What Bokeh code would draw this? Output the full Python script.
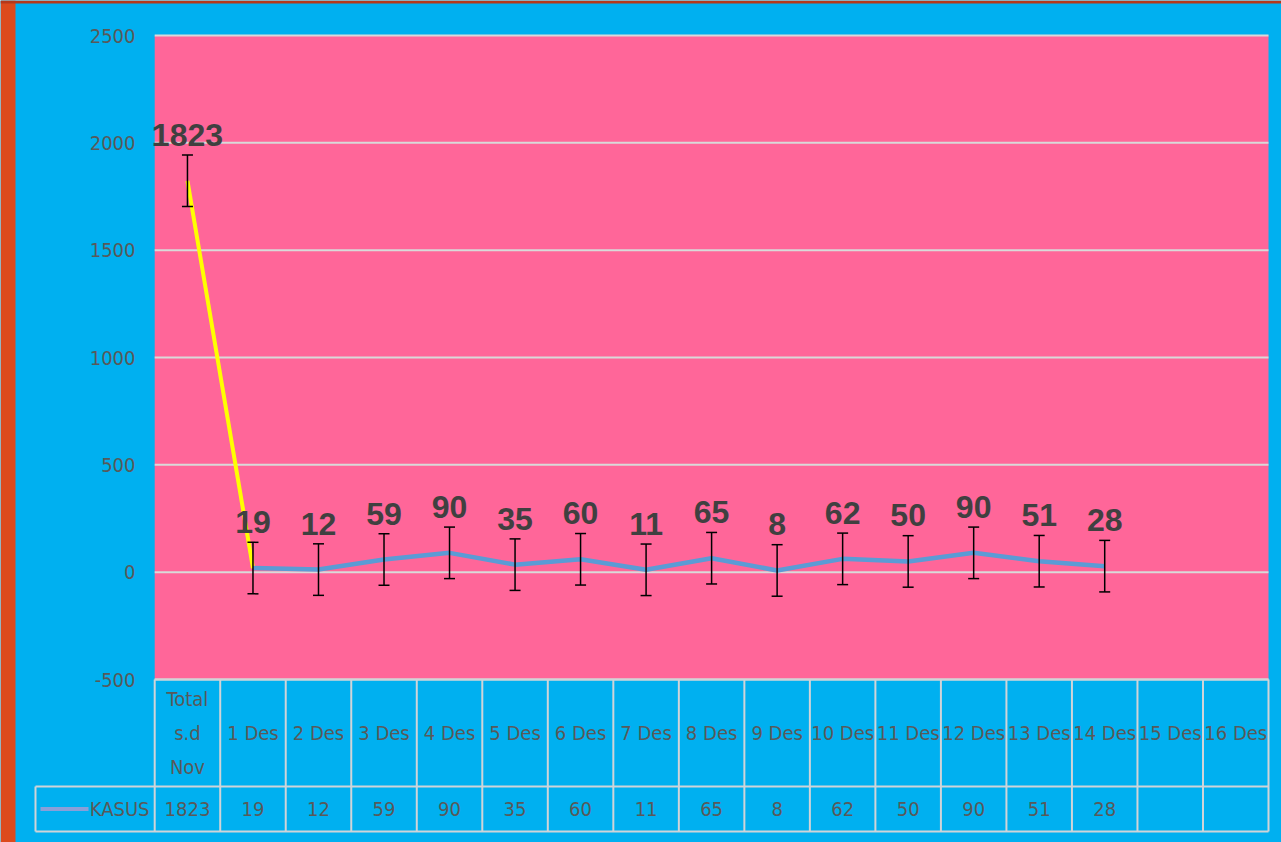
from bokeh.plotting import figure
from bokeh.models import (Range1d, FixedTicker, Whisker, ColumnDataSource, TeeHead,
                          PrintfTickFormatter)
from bokeh.embed import file_html
from bokeh.resources import INLINE
from bokeh.core.properties import value

# ---------------- data ----------------
categories = ["Total\ns.d\nNov", "1 Des", "2 Des", "3 Des", "4 Des", "5 Des", "6 Des",
              "7 Des", "8 Des", "9 Des", "10 Des", "11 Des", "12 Des", "13 Des",
              "14 Des", "15 Des", "16 Des"]
kasus = [1823, 19, 12, 59, 90, 35, 60, 11, 65, 8, 62, 50, 90, 51, 28]
series_name = "KASUS"
error_amount = 120  # error bar half-length
y_ticks = [-500, 0, 500, 1000, 1500, 2000, 2500]

# ---------------- styles / geometry ----------------
BLUE_BG = "#00B0F0"
PINK = "#FF6699"
ORANGE = "#DC4A1C"
DARK = "#B5381A"
GRID = "#D9D9D9"
BORDER = "#D0D4D8"
TXT = "#595959"
LBL = "#404040"
LINE_BLUE = "#5B9BD5"
NARROW = "DejaVu Sans Condensed"
FS = "20px"

W, H = 1281, 842
PL, PR, PT, PB = 154.2, 1268.0, 35.0, 679.0   # pink plot area (canvas px)
ncat = len(categories)
ppx = (PR - PL) / ncat                       # px per category
ppy = (PB - PT) / (y_ticks[-1] - y_ticks[0])  # px per y unit
x0 = -PL / ppx
x1 = (W - PL) / ppx
y_end = y_ticks[-1] + PT / ppy
y_start = y_ticks[-1] - (H - PT) / ppy

p = figure(width=W, height=H, x_range=Range1d(x0, x1), y_range=Range1d(y_start, y_end),
           output_backend="svg", toolbar_location=None,
           min_border_left=0, min_border_right=0, min_border_top=0, min_border_bottom=0)
p.extra_y_ranges = {"table": Range1d(H, 0)}   # canvas pixel rows, top-down
p.background_fill_color = BLUE_BG
p.border_fill_color = BLUE_BG
p.outline_line_color = None
p.xaxis.visible = False
p.grid.visible = False

p.yaxis.ticker = FixedTicker(ticks=y_ticks)
p.yaxis.formatter = PrintfTickFormatter(format="%d")
p.yaxis.axis_line_color = None
p.yaxis.major_tick_line_color = None
p.yaxis.minor_tick_line_color = None
p.yaxis.major_tick_out = 0
p.yaxis.major_tick_in = 0
p.yaxis.major_label_standoff = -135
p.yaxis.major_label_text_font = NARROW
p.yaxis.major_label_text_font_size = FS
p.yaxis.major_label_text_color = TXT

# page edge strips (left orange, thin dark top)
p.quad(left=[x0], right=[x0 + 15 / ppx], bottom=[y_start], top=[y_end],
       fill_color=ORANGE, line_color=None)
p.quad(left=[x0], right=[x1], bottom=[y_end - 3 / ppy], top=[y_end],
       fill_color=DARK, line_color=None)

# plot area
p.quad(left=[0], right=[ncat], bottom=[y_ticks[0]], top=[y_ticks[-1]],
       fill_color=PINK, line_color=None)
p.segment(x0=[0] * len(y_ticks), y0=y_ticks, x1=[ncat] * len(y_ticks), y1=y_ticks,
          line_color=GRID, line_width=2)

# series
n = len(kasus)
xs = [i + 0.5 for i in range(ncat)]
src = ColumnDataSource(dict(
    x=xs[:n], y=kasus,
    lower=[v - error_amount for v in kasus],
    upper=[v + error_amount for v in kasus],
    label=[str(v) for v in kasus],
))
p.line(x=xs[0:2], y=kasus[0:2], line_color="#FFFF00", line_width=4)
p.line(x=xs[1:n], y=kasus[1:n], line_color=LINE_BLUE, line_width=4.5)
p.add_layout(Whisker(source=src, base="x", lower="lower", upper="upper",
                     line_color="black", line_width=1.5, level="annotation",
                     upper_head=TeeHead(size=11, line_color="black", line_width=1.5),
                     lower_head=TeeHead(size=11, line_color="black", line_width=1.5)))
p.text(x="x", y="y", text="label", source=src, text_align="center",
       text_baseline="alphabetic", y_offset=-46, text_font=value("Liberation Sans"),
       text_font_style="bold", text_font_size="32px", text_color=LBL, level="overlay")

# ---------------- data table (canvas pixel rows) ----------------
t_top, t_mid, t_bot = PB, 786, 831
leg_left = (35 - PL) / ppx
vx = [float(i) for i in range(ncat + 1)] + [leg_left]
p.segment(x0=vx, y0=[t_bot] * (ncat + 2), x1=vx, y1=[t_top] * (ncat + 1) + [t_mid],
          line_color=BORDER, line_width=2, y_range_name="table")
p.segment(x0=[0, leg_left, leg_left], y0=[t_top, t_mid, t_bot], x1=[ncat] * 3,
          y1=[t_top, t_mid, t_bot], line_color=BORDER, line_width=2, y_range_name="table")

head_y = (t_top + t_mid) / 2
val_y = (t_mid + t_bot) / 2
p.text(x=xs, y=[head_y] * ncat, text=categories, text_align="center",
       text_baseline="middle", text_font=value(NARROW), text_font_size=FS,
       text_color=TXT, text_line_height=1.4, y_range_name="table")
p.text(x=xs[:n], y=[val_y] * n, text=[str(v) for v in kasus], text_align="center",
       text_baseline="middle", text_font=value(NARROW), text_font_size=FS,
       text_color=TXT, y_range_name="table")
p.text(x=[(149 - PL) / ppx], y=[val_y], text=[series_name], text_align="right",
       text_baseline="middle", text_font=value(NARROW), text_font_size=FS, text_color=TXT,
       y_range_name="table")
p.line(x=[(40 - PL) / ppx, (88 - PL) / ppx], y=[val_y, val_y], line_color="#8A9FD8",
       line_width=4, y_range_name="table")

open("out.html", "w").write(file_html(p, INLINE))
